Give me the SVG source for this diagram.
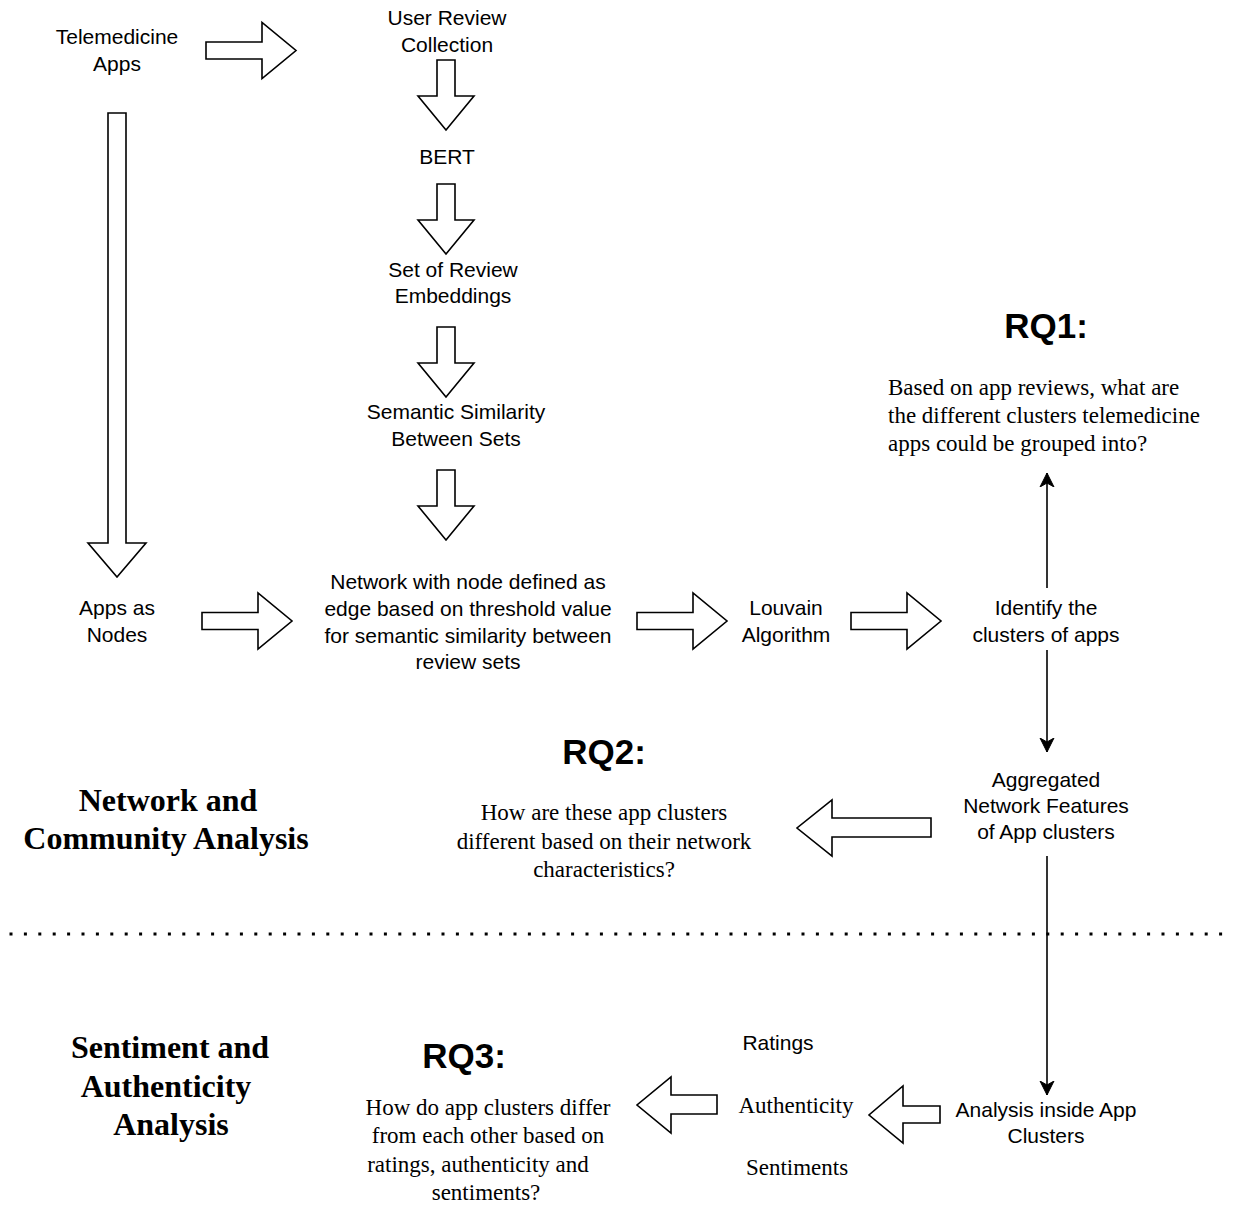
<svg xmlns="http://www.w3.org/2000/svg" xmlns:xlink="http://www.w3.org/1999/xlink" width="1233" height="1205" viewBox="0 0 1233 1205">
  <style>
    .block { fill: #ffffff; stroke: #000000; stroke-width: 1.6; stroke-linejoin: miter; }
    .link { fill: none; stroke: #000000; stroke-width: 1.6; }
    .lbl { font-family: "Liberation Sans", Arial, sans-serif; font-size: 21px; fill: #000; text-anchor: middle; }
    .rq { font-family: "Liberation Sans", Arial, sans-serif; font-size: 35px; font-weight: bold; fill: #000; text-anchor: middle; }
    .q { font-family: "Liberation Serif", "Times New Roman", serif; font-size: 23px; fill: #000; }
    .qc { text-anchor: middle; }
    .title { font-family: "Liberation Serif", "Times New Roman", serif; font-size: 32px; font-weight: bold; fill: #000; text-anchor: middle; }
    .dots { fill: none; stroke: #000; stroke-width: 3; stroke-dasharray: 3 11.4; }
  </style>
  <defs>
    <!-- block arrow pointing right, origin at tail centre -->
    <path id="arrowRight" d="M0,-8.5 H56 V-28 L90,0 L56,28 V8.5 H0 Z"/>
    <!-- block arrow pointing down, origin at tail centre -->
    <path id="arrowDown" d="M-9,0 H9 V36 H28 L0,70 L-28,36 H-9 Z"/>
    <marker id="head" markerWidth="16" markerHeight="16" viewBox="0 0 16 16" refX="14" refY="8" orient="auto" markerUnits="userSpaceOnUse">
      <path d="M0,1 L14,8 L0,15 L4,8 Z" fill="#000" stroke="#000" stroke-width="1"/>
    </marker>
  </defs>

  <rect width="1233" height="1205" fill="#ffffff"/>

  <!-- connectors -->
  <g id="connectors">
    <use xlink:href="#arrowRight" class="block" transform="translate(206,50.5)"/>
    <use xlink:href="#arrowDown" class="block" transform="translate(446,60)"/>
    <use xlink:href="#arrowDown" class="block" transform="translate(446,184)"/>
    <use xlink:href="#arrowDown" class="block" transform="translate(446,327)"/>
    <use xlink:href="#arrowDown" class="block" transform="translate(446,470)"/>
    <path class="block" d="M108,113 H126 V543 H146 L117,577 L88,543 H108 Z"/>
    <use xlink:href="#arrowRight" class="block" transform="translate(202,621)"/>
    <use xlink:href="#arrowRight" class="block" transform="translate(637,621)"/>
    <use xlink:href="#arrowRight" class="block" transform="translate(851,621)"/>
    <path class="block" d="M931,818 V837 H832 V856 L797,828 L832,800 V818 Z"/>
    <path class="block" d="M940,1106 V1123 H903 V1143 L869,1115 L903,1086 V1106 Z"/>
    <path class="block" d="M717,1095 V1114 H671 V1133 L637,1105 L671,1077 V1095 Z"/>
    <line class="link" x1="1047" y1="588" x2="1047" y2="473" marker-end="url(#head)"/>
    <line class="link" x1="1047" y1="650" x2="1047" y2="752" marker-end="url(#head)"/>
    <line class="link" x1="1047" y1="856" x2="1047" y2="1095" marker-end="url(#head)"/>
  </g>

  <!-- section divider -->
  <line class="dots" x1="9.5" y1="934" x2="1233" y2="934"/>

  <g id="telemedicine-apps"><text class="lbl" x="117" y="44">Telemedicine</text><text class="lbl" x="117" y="71">Apps</text></g>
  <g id="user-review-collection"><text class="lbl" x="447" y="25">User Review</text><text class="lbl" x="447" y="52">Collection</text></g>
  <g id="bert"><text class="lbl" x="447" y="164">BERT</text></g>
  <g id="review-embeddings"><text class="lbl" x="453" y="277">Set of Review</text><text class="lbl" x="453" y="303">Embeddings</text></g>
  <g id="semantic-similarity"><text class="lbl" x="456" y="419">Semantic Similarity</text><text class="lbl" x="456" y="446">Between Sets</text></g>
  <g id="network">
    <text class="lbl" x="468" y="589">Network with node defined as</text>
    <text class="lbl" x="468" y="616">edge based on threshold value</text>
    <text class="lbl" x="468" y="643">for semantic similarity between</text>
    <text class="lbl" x="468" y="669">review sets</text>
  </g>
  <g id="apps-as-nodes"><text class="lbl" x="117" y="615">Apps as</text><text class="lbl" x="117" y="642">Nodes</text></g>
  <g id="louvain"><text class="lbl" x="786" y="615">Louvain</text><text class="lbl" x="786" y="642">Algorithm</text></g>
  <g id="identify-clusters"><text class="lbl" x="1046" y="615">Identify the</text><text class="lbl" x="1046" y="642">clusters of apps</text></g>
  <g id="rq1">
    <text class="rq" x="1046" y="338">RQ1:</text>
    <text class="q" x="888" y="395">Based on app reviews, what are</text>
    <text class="q" x="888" y="423">the different clusters telemedicine</text>
    <text class="q" x="888" y="451">apps could be grouped into?</text>
  </g>
  <g id="aggregated-features">
    <text class="lbl" x="1046" y="787">Aggregated</text>
    <text class="lbl" x="1046" y="813">Network Features</text>
    <text class="lbl" x="1046" y="839">of App clusters</text>
  </g>
  <g id="rq2">
    <text class="rq" x="604" y="764">RQ2:</text>
    <text class="q qc" x="604" y="820">How are these app clusters</text>
    <text class="q qc" x="604" y="849">different based on their network</text>
    <text class="q qc" x="604" y="877">characteristics?</text>
  </g>
  <g id="network-community-title">
    <text class="title" x="168" y="811">Network and</text>
    <text class="title" x="166" y="849">Community Analysis</text>
  </g>
  <g id="sentiment-authenticity-title">
    <text class="title" x="170" y="1058">Sentiment and</text>
    <text class="title" x="166" y="1097">Authenticity</text>
    <text class="title" x="171" y="1135">Analysis</text>
  </g>
  <g id="rq3">
    <text class="rq" x="464" y="1068">RQ3:</text>
    <text class="q qc" x="488" y="1115">How do app clusters differ</text>
    <text class="q qc" x="488" y="1143">from each other based on</text>
    <text class="q qc" x="478" y="1172">ratings, authenticity and</text>
    <text class="q qc" x="486" y="1200">sentiments?</text>
  </g>
  <g id="ratings"><text class="lbl" x="778" y="1050">Ratings</text></g>
  <g id="authenticity"><text class="q qc" x="796" y="1113">Authenticity</text></g>
  <g id="sentiments"><text class="q qc" x="797" y="1175">Sentiments</text></g>
  <g id="analysis-inside"><text class="lbl" x="1046" y="1117">Analysis inside App</text><text class="lbl" x="1046" y="1143">Clusters</text></g>
</svg>
